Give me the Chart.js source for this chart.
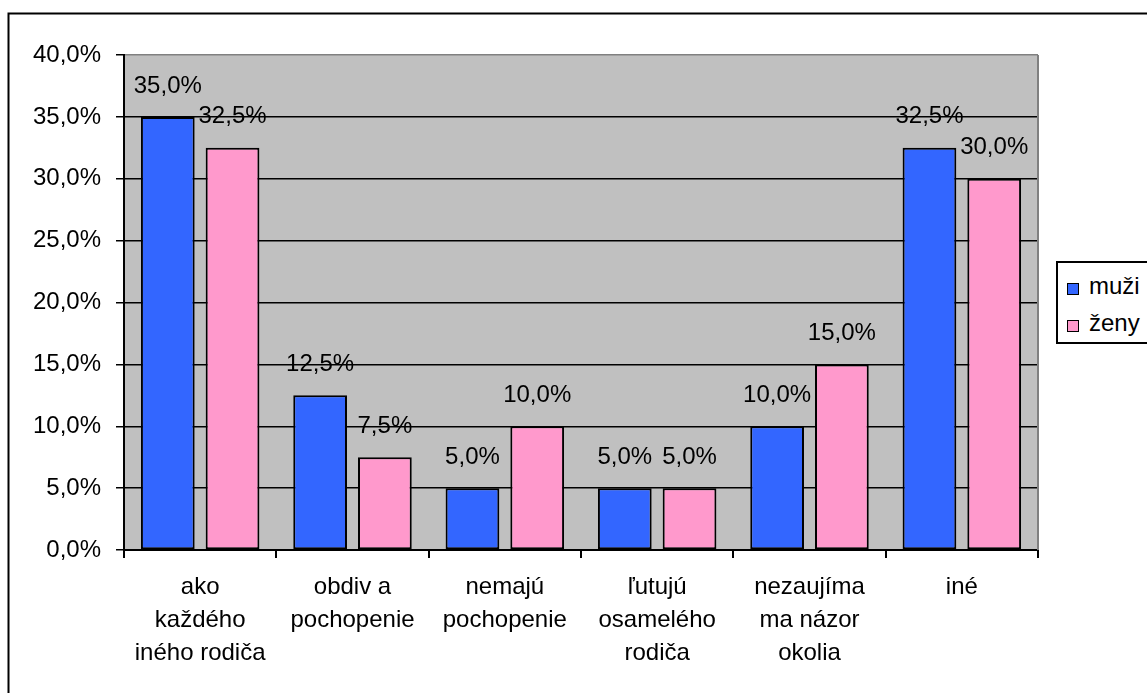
<!DOCTYPE html>
<html>
<head>
<meta charset="utf-8">
<script src="https://cdn.jsdelivr.net/npm/chart.js@4"></script>
<style>
    html, body { margin: 0; padding: 0; background: #fff; }
    #wrap { position: relative; width: 1147px; height: 693px; overflow: hidden; }
    #legend {
        position: absolute; left: 1056px; top: 261px; width: 110px; height: 79px;
        border: 2px solid #000; background: #fff;
        font-family: "Liberation Sans", Arial, sans-serif; font-size: 24px; color: #000;
    }
    .item { position: absolute; left: 9px; height: 28px; line-height: 28px; white-space: nowrap; }
    .item span.box {
        display: inline-block; width: 10px; height: 10px; border: 1px solid #000;
        margin-right: 10px; vertical-align: -1px;
    }
</style>
</head>
<body>
<div id="wrap">
    <canvas id="chart" width="1147" height="693"></canvas>
    <div id="legend"></div>
</div>
<script>
const categories = [
    ['ako', 'každého', 'iného rodiča'],
    ['obdiv a', 'pochopenie'],
    ['nemajú', 'pochopenie'],
    ['ľutujú', 'osamelého', 'rodiča'],
    ['nezaujíma', 'ma názor', 'okolia'],
    ['iné']
];
const seriesNames = ['muži', 'ženy'];
const muzi = [35.0, 12.5, 5.0, 5.0, 10.0, 32.5];
const zeny = [32.5, 7.5, 10.0, 5.0, 15.0, 30.0];
const seriesColors = ['#3366FF', '#FF99CC'];
const yTicks = [0, 5, 10, 15, 20, 25, 30, 35, 40];

const FONT = '"Liberation Sans", Arial, sans-serif';
const fmt = v => v.toFixed(1).replace('.', ',') + '%';

// gray plot area + gray top/right edge + outer frame
const backdrop = {
    id: 'backdrop',
    beforeDraw(chart) {
        const { ctx, chartArea: a } = chart;
        ctx.save();
        ctx.fillStyle = '#C0C0C0';
        ctx.fillRect(a.left, a.top, a.right - a.left, a.bottom - a.top);
        ctx.restore();
    },
    afterDraw(chart) {
        const { ctx, chartArea: a } = chart;
        ctx.save();
        ctx.strokeStyle = '#808080';
        ctx.lineWidth = 2;
        ctx.beginPath();
        ctx.moveTo(a.right, a.top);
        ctx.lineTo(a.right, a.bottom);
        ctx.stroke();
        ctx.strokeStyle = '#000';
        ctx.lineWidth = 2;
        ctx.strokeRect(8.5, 13.5, 2000, 2000);
        ctx.restore();
    }
};

// value labels above the bars
const valueLabels = {
    id: 'valueLabels',
    afterDatasetsDraw(chart) {
        const ctx = chart.ctx;
        ctx.save();
        ctx.font = '24px ' + FONT;
        ctx.fillStyle = '#000';
        ctx.textAlign = 'center';
        ctx.textBaseline = 'middle';
        chart.data.datasets.forEach((ds, i) => {
            chart.getDatasetMeta(i).data.forEach((bar, j) => {
                ctx.fillText(fmt(ds.data[j]), bar.x, bar.y - 31);
            });
        });
        ctx.restore();
    }
};

new Chart(document.getElementById('chart'), {
    type: 'bar',
    data: {
        labels: categories,
        datasets: [
            { label: seriesNames[0], data: muzi, backgroundColor: seriesColors[0] },
            { label: seriesNames[1], data: zeny, backgroundColor: seriesColors[1] }
        ]
    },
    options: {
        responsive: false,
        animation: false,
        layout: { padding: { top: 55, right: 109, left: 0, bottom: 0 } },
        datasets: {
            bar: {
                borderColor: '#000', borderWidth: 2, borderSkipped: false,
                categoryPercentage: 0.85, barPercentage: 0.83
            }
        },
        plugins: { legend: { display: false }, tooltip: { enabled: false } },
        scales: {
            x: {
                afterFit: s => { s.height = 143; },
                border: { color: '#000', width: 2 },
                grid: { drawOnChartArea: false, drawTicks: true, tickLength: 8, color: '#000', lineWidth: 2 },
                ticks: {
                    color: '#000', font: { family: FONT, size: 24, lineHeight: 1.38 },
                    maxRotation: 0, autoSkip: false, padding: 13
                }
            },
            y: {
                min: 0, max: 40,
                afterFit: s => { s.width = 124; },
                afterBuildTicks: s => { s.ticks = yTicks.map(v => ({ value: v })); },
                border: { color: '#000', width: 2 },
                grid: {
                    color: c => (c.tick && c.tick.value === 40 ? '#808080' : '#000'),
                    tickColor: '#000', lineWidth: 1.5, tickLength: 8
                },
                ticks: {
                    color: '#000', font: { family: FONT, size: 24 }, padding: 15,
                    callback: v => fmt(v)
                }
            }
        }
    },
    plugins: [backdrop, valueLabels]
});

// legend
const legend = document.getElementById('legend');
seriesNames.forEach((name, i) => {
    const d = document.createElement('div');
    d.className = 'item';
    d.style.top = (i === 0 ? 9 : 46) + 'px';
    const b = document.createElement('span');
    b.className = 'box';
    b.style.background = seriesColors[i];
    d.appendChild(b);
    d.appendChild(document.createTextNode(name));
    legend.appendChild(d);
});
</script>
</body>
</html>
